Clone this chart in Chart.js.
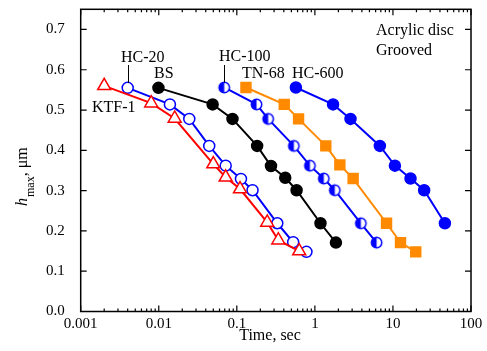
<!DOCTYPE html>
<html lang="en">
<head>
  <meta charset="UTF-8" />
  <title>h_max vs time</title>
  <script src="https://cdn.jsdelivr.net/npm/chart.js"></script>
  <style>
    body { margin: 0; background: #fff; }
    canvas { display: block; }
  </style>
</head>
<body>
  <canvas id="chart" width="487" height="351"></canvas>
  <script>
    // data (time in sec, h_max in um)
    const ktfTime = [0.002, 0.008, 0.016, 0.05, 0.072, 0.11, 0.245, 0.34, 0.63];
    const ktfH = [0.56, 0.517, 0.479, 0.366, 0.333, 0.304, 0.221, 0.177, 0.150];
    const hc20Time = [0.004, 0.0139, 0.0246, 0.0443, 0.072, 0.113, 0.159, 0.33, 0.527, 0.78];
    const hc20H = [0.555, 0.514, 0.478, 0.411, 0.362, 0.329, 0.301, 0.219, 0.172, 0.148];
    const bsTime = [0.0099, 0.049, 0.088, 0.182, 0.274, 0.417, 0.583, 1.18, 1.86];
    const bsH = [0.555, 0.514, 0.478, 0.411, 0.361, 0.332, 0.301, 0.219, 0.171];
    const hc100Time = [0.069, 0.179, 0.252, 0.538, 0.863, 1.30, 1.80, 3.88, 6.17];
    const hc100H = [0.556, 0.514, 0.478, 0.411, 0.362, 0.330, 0.301, 0.219, 0.171];
    const tn68Time = [0.131, 0.405, 0.618, 1.38, 2.09, 3.09, 8.28, 12.5, 19.6];
    const tn68H = [0.556, 0.514, 0.478, 0.411, 0.364, 0.330, 0.219, 0.171, 0.148];
    const hc600Time = [0.571, 1.71, 2.86, 6.8, 10.6, 16.8, 25.1, 46.3];
    const hc600H = [0.556, 0.514, 0.478, 0.411, 0.362, 0.330, 0.301, 0.219];

    const xTicks = [0.001, 0.01, 0.1, 1, 10, 100];
    const yTicks = [0, 0.1, 0.2, 0.3, 0.4, 0.5, 0.6, 0.7];

    const SERIF = '"Liberation Serif", "Times New Roman", serif';
    const BLUE = '#0000ff';
    const RED = '#ff0000';
    const ORANGE = '#ff8a00';

    function pts(xs, ys) {
      return xs.map((x, i) => ({ x: x, y: ys[i] }));
    }

    // half filled circle marker for HC-100
    function halfCircle() {
      const c = document.createElement('canvas');
      c.width = 15; c.height = 15;
      const g = c.getContext('2d');
      g.beginPath(); g.arc(7.5, 7.5, 5.2, 0, Math.PI * 2);
      g.fillStyle = '#fff'; g.fill();
      g.beginPath(); g.moveTo(7.5, 7.5);
      g.arc(7.5, 7.5, 5.2, Math.PI / 2, Math.PI * 1.5);
      g.closePath(); g.fillStyle = BLUE; g.fill();
      g.beginPath(); g.arc(7.5, 7.5, 5.2, 0, Math.PI * 2);
      g.lineWidth = 1.5; g.strokeStyle = BLUE; g.stroke();
      return c;
    }

    function series(data, color, fill, style, radius) {
      return {
        data: data,
        showLine: true,
        borderColor: color,
        borderWidth: 2,
        pointStyle: style || 'circle',
        pointRadius: radius || 5.5,
        pointHoverRadius: radius || 5.5,
        pointBorderWidth: 1.5,
        pointBorderColor: color,
        pointBackgroundColor: fill
      };
    }

    const frame = {
      id: 'frame',
      afterDraw(chart) {
        const ctx = chart.ctx;
        const a = chart.chartArea;
        const xs = chart.scales.x, ys = chart.scales.y;
        ctx.save();
        ctx.strokeStyle = '#000';
        ctx.lineWidth = 1.5;
        ctx.strokeRect(a.left, a.top, a.right - a.left, a.bottom - a.top);
        ctx.lineWidth = 1.2;
        ctx.beginPath();
        for (let d = 0; d < xTicks.length; d++) {
          const px = xs.getPixelForValue(xTicks[d]);
          ctx.moveTo(px, a.bottom); ctx.lineTo(px, a.bottom - 6);
          ctx.moveTo(px, a.top); ctx.lineTo(px, a.top + 6);
          if (d < xTicks.length - 1) {
            for (let m = 2; m < 10; m++) {
              const mx = xs.getPixelForValue(xTicks[d] * m);
              ctx.moveTo(mx, a.bottom); ctx.lineTo(mx, a.bottom - 3);
              ctx.moveTo(mx, a.top); ctx.lineTo(mx, a.top + 3);
            }
          }
        }
        yTicks.forEach(v => {
          const py = ys.getPixelForValue(v);
          ctx.moveTo(a.left, py); ctx.lineTo(a.left + 6, py);
          ctx.moveTo(a.right, py); ctx.lineTo(a.right - 6, py);
        });
        ctx.stroke();

        // leader lines for HC-20 and HC-100
        ctx.lineWidth = 1;
        ctx.beginPath();
        [[hc20Time[0], hc20H[0]], [hc100Time[0], hc100H[0]]].forEach(p => {
          const px = Math.round(xs.getPixelForValue(p[0])) + 0.5;
          const py = ys.getPixelForValue(p[1]);
          ctx.moveTo(px, 65); ctx.lineTo(px, py - 5);
        });
        ctx.stroke();

        ctx.fillStyle = '#000';
        ctx.font = '16px ' + SERIF;
        ctx.textAlign = 'left';
        ctx.textBaseline = 'alphabetic';
        ctx.fillText('HC-20', 121, 62);
        ctx.fillText('BS', 154, 77.5);
        ctx.fillText('KTF-1', 92, 112);
        ctx.fillText('HC-100', 219, 61);
        ctx.fillText('TN-68', 242, 77.5);
        ctx.fillText('HC-600', 292, 77.5);
        ctx.fillText('Acrylic disc', 376, 35);
        ctx.fillText('Grooved', 376, 55);

        // x title
        ctx.textAlign = 'center';
        ctx.fillText('Time, sec', 270, 340);

        // y title: h_max, um
        ctx.translate(27, 206);
        ctx.rotate(-Math.PI / 2);
        ctx.textAlign = 'left';
        ctx.font = 'italic 16px ' + SERIF;
        ctx.fillText('h', 0, 0);
        let w = ctx.measureText('h').width + 1;
        ctx.font = '12px ' + SERIF;
        ctx.fillText('max', w, 7);
        w += ctx.measureText('max').width;
        ctx.font = '16px ' + SERIF;
        ctx.fillText(', \u03bcm', w, 0);
        ctx.restore();
      }
    };

    new Chart(document.getElementById('chart'), {
      type: 'scatter',
      data: {
        datasets: [
          series(pts(ktfTime, ktfH), RED, '#fff', 'triangle', 7.5),
          series(pts(hc20Time, hc20H), BLUE, '#fff'),
          series(pts(bsTime, bsH), '#000', '#000'),
          series(pts(hc100Time, hc100H), BLUE, BLUE, halfCircle()),
          series(pts(tn68Time, tn68H), ORANGE, ORANGE, 'rect', 7),
          series(pts(hc600Time, hc600H), BLUE, BLUE)
        ]
      },
      options: {
        responsive: false,
        animation: false,
        devicePixelRatio: 1,
        layout: { padding: { left: 0, right: 16, top: 9.3, bottom: 0 } },
        plugins: { legend: { display: false }, tooltip: { enabled: false } },
        scales: {
          x: {
            type: 'logarithmic',
            min: 0.001,
            max: 100,
            afterBuildTicks: s => { s.ticks = xTicks.map(v => ({ value: v })); },
            afterFit: s => { s.height = 39.5; s.paddingLeft = 0; s.paddingRight = 0; },
            grid: { display: false, drawTicks: false },
            border: { display: false },
            ticks: {
              color: '#000',
              font: { family: SERIF, size: 15 },
              padding: 4,
              maxRotation: 0,
              autoSkip: false,
              callback: v => String(v)
            }
          },
          y: {
            min: 0,
            max: 0.75,
            afterBuildTicks: s => { s.ticks = yTicks.map(v => ({ value: v })); },
            afterFit: s => { s.width = 80.7; s.paddingTop = 0; s.paddingBottom = 0; },
            grid: { display: false, drawTicks: false },
            border: { display: false },
            ticks: {
              color: '#000',
              font: { family: SERIF, size: 15 },
              padding: 16,
              callback: v => v.toFixed(1)
            }
          }
        }
      },
      plugins: [frame]
    });
  </script>
</body>
</html>
